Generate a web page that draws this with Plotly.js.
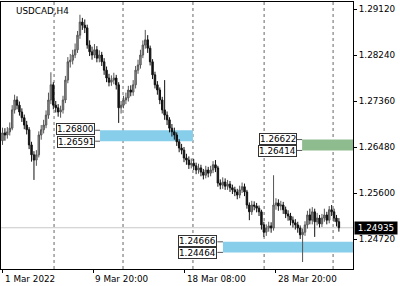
<!DOCTYPE html>
<html><head><meta charset="utf-8">
<script src="https://cdn.plot.ly/plotly-3.0.1.min.js"></script>
<style>html,body{margin:0;padding:0;background:#fff}#c{width:400px;height:286px}</style>
</head><body><div id="c"></div>
<script>
var symbolTitle = "USDCAD,H4";
var openP = [1.2660,1.2675,1.2671,1.2677,1.2684,1.2719,1.2738,1.2728,1.2715,1.2704,1.2690,1.2681,1.2652,1.2633,1.2623,1.2633,1.2671,1.2681,1.2690,1.2709,
1.2738,1.2767,1.2728,1.2723,1.2715,1.2719,1.2738,1.2776,1.2811,1.2814,1.2824,1.2834,1.2862,1.2887,1.2881,1.2876,1.2843,1.2830,1.2824,1.2834,
1.2818,1.2824,1.2811,1.2795,1.2780,1.2772,1.2776,1.2780,1.2767,1.2723,1.2728,1.2738,1.2742,1.2757,1.2753,1.2767,1.2795,1.2805,1.2824,1.2843,
1.2853,1.2837,1.2811,1.2786,1.2767,1.2757,1.2738,1.2719,1.2709,1.2700,1.2684,1.2677,1.2671,1.2658,1.2646,1.2642,1.2627,1.2623,1.2614,1.2617,
1.2612,1.2604,1.2608,1.2600,1.2594,1.2604,1.2598,1.2604,1.2614,1.2608,1.2579,1.2575,1.2581,1.2573,1.2577,1.2570,1.2566,1.2562,1.2556,1.2566,
1.2572,1.2562,1.2537,1.2524,1.2537,1.2535,1.2531,1.2524,1.2499,1.2485,1.2493,1.2497,1.2493,1.2537,1.2541,1.2535,1.2537,1.2528,1.2520,1.2516,
1.2508,1.2503,1.2499,1.2493,1.2480,1.2485,1.2499,1.2518,1.2508,1.2524,1.2505,1.2512,1.2501,1.2512,1.2518,1.2508,1.2528,1.2524,1.2512,1.2505];
var closeP = [1.2675,1.2671,1.2677,1.2684,1.2719,1.2738,1.2728,1.2715,1.2704,1.2690,1.2681,1.2652,1.2633,1.2623,1.2633,1.2671,1.2681,1.2690,1.2709,1.2738,
1.2767,1.2728,1.2723,1.2715,1.2719,1.2738,1.2776,1.2811,1.2814,1.2824,1.2834,1.2862,1.2887,1.2881,1.2876,1.2843,1.2830,1.2824,1.2834,1.2818,
1.2824,1.2811,1.2795,1.2780,1.2772,1.2776,1.2780,1.2767,1.2723,1.2728,1.2738,1.2742,1.2757,1.2753,1.2767,1.2795,1.2805,1.2824,1.2843,1.2853,
1.2837,1.2811,1.2786,1.2767,1.2757,1.2738,1.2719,1.2709,1.2700,1.2684,1.2677,1.2671,1.2658,1.2646,1.2642,1.2627,1.2623,1.2614,1.2617,1.2612,
1.2604,1.2608,1.2600,1.2594,1.2604,1.2598,1.2604,1.2614,1.2608,1.2579,1.2575,1.2581,1.2573,1.2577,1.2570,1.2566,1.2562,1.2556,1.2566,1.2572,
1.2562,1.2537,1.2524,1.2537,1.2535,1.2531,1.2524,1.2499,1.2485,1.2493,1.2497,1.2493,1.2537,1.2541,1.2535,1.2537,1.2528,1.2520,1.2516,1.2508,
1.2503,1.2499,1.2493,1.2480,1.2485,1.2499,1.2518,1.2508,1.2524,1.2505,1.2512,1.2501,1.2512,1.2518,1.2508,1.2528,1.2524,1.2512,1.2505,1.24935];
var highP = [1.2685,1.2684,1.2686,1.2695,1.2728,1.2748,1.2745,1.2735,1.2722,1.2710,1.2698,1.2686,1.2658,1.2640,1.2642,1.2678,1.2690,1.2700,1.2718,1.2752,
1.2791,1.2772,1.2736,1.2730,1.2727,1.2746,1.2784,1.2820,1.2826,1.2834,1.2846,1.2870,1.2901,1.2895,1.2892,1.2882,1.2852,1.2840,1.2845,1.2841,
1.2833,1.2830,1.2818,1.2802,1.2788,1.2785,1.2790,1.2786,1.2772,1.2736,1.2746,1.2752,1.2765,1.2766,1.2776,1.2803,1.2815,1.2834,1.2852,1.2872,
1.2862,1.2842,1.2816,1.2792,1.2774,1.2762,1.2744,1.2776,1.2716,1.2705,1.2692,1.2685,1.2676,1.2663,1.2654,1.2648,1.2635,1.2630,1.2626,1.2625,
1.2618,1.2616,1.2614,1.2606,1.2612,1.2610,1.2612,1.2621,1.2623,1.2612,1.2586,1.2590,1.2588,1.2585,1.2583,1.2576,1.2572,1.2568,1.2574,1.2580,
1.2578,1.2566,1.2542,1.2545,1.2544,1.2541,1.2536,1.2528,1.2505,1.2500,1.2505,1.2504,1.2594,1.2550,1.2548,1.2545,1.2543,1.2534,1.2527,1.2522,
1.2515,1.2510,1.2505,1.2498,1.2492,1.2506,1.2526,1.2530,1.2533,1.2530,1.2522,1.2518,1.2520,1.2530,1.2524,1.2535,1.2537,1.2530,1.2518,1.2512];
var lowP = [1.2652,1.2660,1.2664,1.2670,1.2680,1.2712,1.2720,1.2708,1.2696,1.2682,1.2672,1.2644,1.2620,1.2585,1.2612,1.2628,1.2662,1.2674,1.2684,1.2702,
1.2730,1.2720,1.2714,1.2706,1.2704,1.2712,1.2732,1.2770,1.2800,1.2806,1.2818,1.2828,1.2855,1.2872,1.2866,1.2836,1.2822,1.2815,1.2818,1.2810,
1.2810,1.2803,1.2786,1.2772,1.2764,1.2765,1.2768,1.2758,1.2694,1.2712,1.2722,1.2730,1.2735,1.2745,1.2746,1.2760,1.2788,1.2798,1.2818,1.2836,
1.2828,1.2804,1.2778,1.2760,1.2748,1.2730,1.2712,1.2700,1.2690,1.2676,1.2668,1.2662,1.2650,1.2638,1.2634,1.2619,1.2614,1.2606,1.2607,1.2604,
1.2596,1.2597,1.2592,1.2586,1.2588,1.2590,1.2592,1.2598,1.2600,1.2572,1.2567,1.2568,1.2566,1.2566,1.2562,1.2558,1.2554,1.2548,1.2550,1.2560,
1.2554,1.2530,1.2508,1.2518,1.2527,1.2523,1.2516,1.2490,1.2476,1.2478,1.2486,1.2484,1.2488,1.2528,1.2526,1.2527,1.2520,1.2512,1.2507,1.2498,
1.2494,1.2490,1.2484,1.2472,1.2428,1.2478,1.2492,1.2500,1.2500,1.2476,1.2498,1.2494,1.2495,1.2505,1.2500,1.2502,1.2516,1.2505,1.2496,1.2486];
var priceTicks = [1.2912, 1.2824, 1.2736, 1.2648, 1.2560, 1.2472];
var priceTickText = ["1.29120","1.28240","1.27360","1.26480","1.25600","1.24720"];
var timeTickPos = [0, 37.4, 75.4, 113.0];
var timeTickText = ["1 Mar 2022","9 Mar 20:00","18 Mar 08:00","28 Mar 20:00"];
var separatorPos = [21.3, 49.8, 78.7, 108.1, 136.6];
var lastPrice = 1.24935;
var zoneTop = [1.26800, 1.26622, 1.24666];
var zoneBottom = [1.26591, 1.26414, 1.24464];
var zoneStart = [40.3, 123.8, 91.1];
var zoneEnd = [78.7, null, null];
var zoneColor = ["#87ceeb", "#8fbc8f", "#87ceeb"];
var zoneLabelRight = [38.3, 121.5, 88.8];

var idx = closeP.map(function(_, i){ return i; });
var xMin = -0.62, xMax = 144.83;
var font = "DejaVu Sans, Verdana, sans-serif";

var shapes = [];
separatorPos.forEach(function(p){
  shapes.push({type:"line", xref:"x", yref:"paper", x0:p, x1:p, y0:0, y1:1,
    line:{color:"#666", width:1, dash:"dot"}, layer:"below"});
});
shapes.push({type:"line", xref:"paper", yref:"y", x0:0, x1:1, y0:lastPrice, y1:lastPrice,
  line:{color:"#c8c8c8", width:1}, layer:"below"});
var annotations = [];
for (var k = 0; k < zoneTop.length; k++) {
  var end = zoneEnd[k] === null ? xMax : zoneEnd[k];
  shapes.push({type:"rect", xref:"x", yref:"y", x0:zoneStart[k], x1:end, y0:zoneBottom[k], y1:zoneTop[k],
    fillcolor:zoneColor[k], line:{width:0}, layer:"below"});
  [zoneTop[k], zoneBottom[k]].forEach(function(lv, j){
    shapes.push({type:"line", xref:"x", yref:"y", x0:zoneLabelRight[k], x1:zoneStart[k], y0:lv, y1:lv,
      line:{color:"#555", width:1}});
    annotations.push({xref:"x", yref:"y", x:zoneLabelRight[k], y:lv, xanchor:"right", yanchor:"middle",
      yshift: j === 0 ? 1 : -1,
      text: lv.toFixed(5), showarrow:false, bgcolor:"#fff", bordercolor:"#333", borderwidth:1, borderpad:0,
      font:{family:font, size:8.8, color:"#000"}});
  });
}
timeTickPos.forEach(function(p, i){
  annotations.push({xref:"x", yref:"paper", x:p, y:0, yshift:-3, xanchor:"left", yanchor:"top",
    text:timeTickText[i], showarrow:false, font:{family:font, size:8.8, color:"#000"}});
});
annotations.push({xref:"paper", yref:"paper", x:0, y:1, xshift:13, yshift:-2, xanchor:"left", yanchor:"top",
  text:symbolTitle, showarrow:false, font:{family:font, size:8.8, color:"#000"}});
annotations.push({xref:"paper", yref:"y", x:1, y:lastPrice, xshift:1, xanchor:"left", yanchor:"middle",
  text:lastPrice.toFixed(5), showarrow:false, bgcolor:"#000", borderpad:1,
  font:{family:font, size:8.8, color:"#fff"}, width:40, align:"center"});

var trace = {
  type:"candlestick", x:idx, open:openP, high:highP, low:lowP, close:closeP,
  increasing:{line:{color:"#555", width:1}, fillcolor:"#999"},
  decreasing:{line:{color:"#111", width:1}, fillcolor:"#111"},
  hoverinfo:"none"
};
var layout = {
  width:400, height:286, margin:{l:1, r:47, t:2, b:17},
  paper_bgcolor:"#fff", plot_bgcolor:"#fff", showlegend:false, boxgap:0.15,
  xaxis:{range:[xMin, xMax], rangeslider:{visible:false}, showgrid:false, zeroline:false,
    tickvals:timeTickPos, showticklabels:false, ticks:"outside", ticklen:3, tickcolor:"#000",
    showline:true, linecolor:"#000", linewidth:1, mirror:true},
  yaxis:{range:[1.24146, 1.29254], side:"right", showgrid:false, zeroline:false,
    tickvals:priceTicks, ticktext:priceTickText, ticks:"outside", ticklen:3, tickcolor:"#000",
    tickfont:{family:font, size:8.8, color:"#000"},
    showline:true, linecolor:"#000", linewidth:1, mirror:true},
  shapes:shapes, annotations:annotations
};
Plotly.newPlot("c", [trace], layout, {staticPlot:true, displayModeBar:false});
</script></body></html>
